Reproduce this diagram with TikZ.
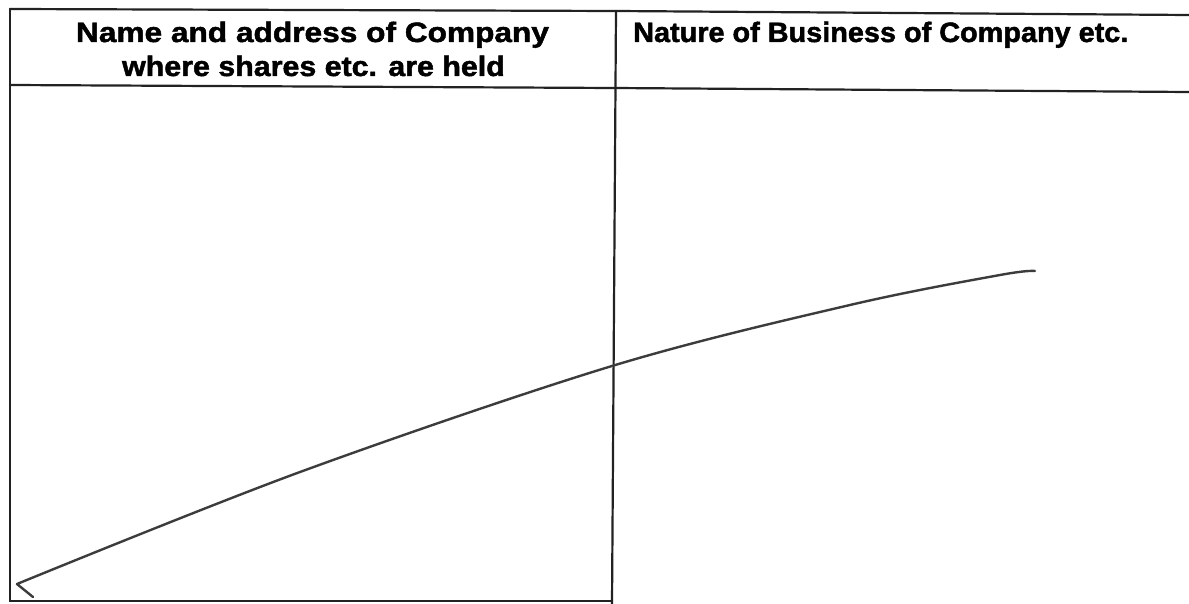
\documentclass[tikz,border=0pt]{standalone}
\usepackage{graphicx}
\usepackage{fontspec}
\setmainfont{Liberation Sans}
\newfontfamily\headfont{Liberation Sans Bold}[FakeBold=1.6]
\definecolor{rule}{HTML}{222222}
\definecolor{pen}{HTML}{3C3C3C}
\begin{document}
\begin{tikzpicture}[x=1pt,y=-1pt,
  frame/.style={draw=rule,line width=2.2pt,line cap=round},
  head/.style={inner sep=0pt,font=\fontsize{28}{30}\headfont},
  scribble/.style={draw=pen,line width=2.4pt,line cap=round,line join=round}]
\useasboundingbox[fill=white] (0,0) rectangle (1189,604);
% frame
\draw[frame] (10,9) -- (616,11) -- (1189,15);
\draw[frame] (10,85) -- (614,88) -- (1189,92);
\draw[frame] (10,9) -- (10,601) -- (612,601);
\draw[frame] (616,11) -- (612,604);
% headers
\node[head,anchor=base] (h1a) at (312.5,42) {\scalebox{1.13}[1]{Name and address of Company}};
\node[head,anchor=base] (h1b) at (313.5,76) {\scalebox{1.085}[1]{where shares etc. are held}};
\node[head,anchor=base west] (h2) at (633,42) {\scalebox{1.03}[1]{Nature of Business of Company etc.}};
% hand-drawn line
\draw[scribble] (33,597) -- (17,584)
  plot[smooth,tension=0.55] coordinates {(17,584) (300,472) (612,366) (850,305) (1000,275) (1035,271)};
\end{tikzpicture}
\end{document}
